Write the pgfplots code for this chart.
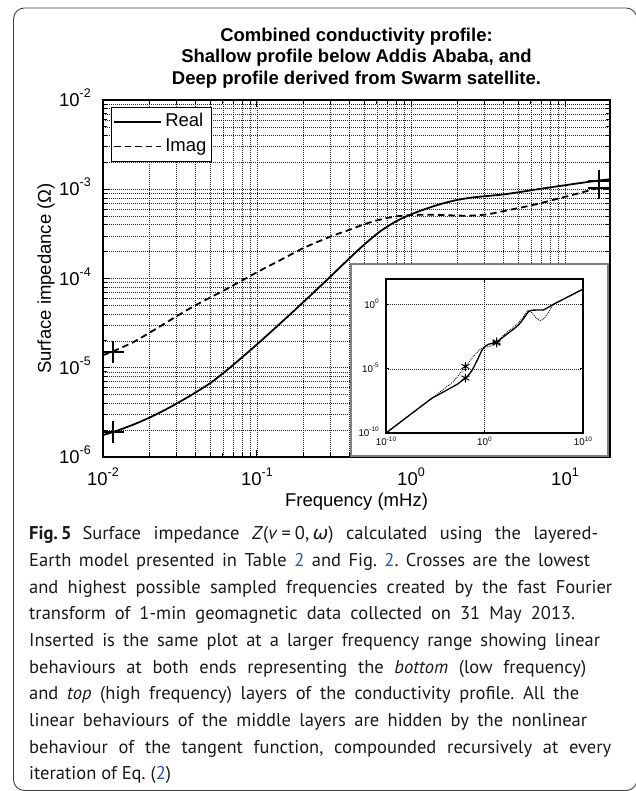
\documentclass[border=0pt]{standalone}
\usepackage{fontspec}
\setmainfont{Liberation Sans}
\newfontfamily\capfont{PT Sans}
\newfontfamily\greekfont{DejaVu Sans}
\usepackage{pgfplots}
\pgfplotsset{compat=1.18}
\definecolor{linkblue}{RGB}{40,80,210}
\frenchspacing
\newcommand{\tp}[1]{10\raisebox{9pt}{\fontsize{12.5}{12.5}\selectfont #1}}
\newcommand{\tps}[1]{10\raisebox{4.5pt}{\fontsize{6.5}{6.5}\selectfont #1}}
\newcommand{\capline}[3]{\node[anchor=base west, inner sep=0pt, font={\fontsize{18.5}{20}\selectfont\capfont}, text=black!90] at (29,#1) {\hbox to #2pt{\frenchspacing\spaceskip=0.25em plus 1fil minus 1fil\xspaceskip=\spaceskip\relax #3}};}
\begin{document}
\begin{tikzpicture}[x=1pt,y=1pt]
\useasboundingbox (0,0) rectangle (635,791);
\draw[black!75, line width=0.9pt, rounded corners=11pt] (13.5,0.5) rectangle (637,783);
% title
\node[font=\bfseries\fontsize{18.5}{22}\selectfont, anchor=base] at (356.5,749) {Combined conductivity profile:};
\node[font=\bfseries\fontsize{18.5}{22}\selectfont, anchor=base] at (356.5,728) {Shallow profile below Addis Ababa, and};
\node[font=\bfseries\fontsize{18.5}{22}\selectfont, anchor=base] at (356.5,706) {Deep profile derived from Swarm satellite.};
\begin{axis}[
  at={(103pt,334pt)}, anchor=south west,
  width=507pt, height=357pt, scale only axis,
  xmode=log, ymode=log,
  xmin=0.01, xmax=19.6, ymin=1e-6, ymax=1e-2,
  xtick={0.01,0.1,1,10},
  xticklabels={\tp{-2},\tp{-1},\tp{0},\tp{1}},
  ytick={1e-6,1e-5,1e-4,1e-3,1e-2},
  yticklabels={\tp{-6},\tp{-5},\tp{-4},\tp{-3},\tp{-2}},
  minor xtick={0.02,0.03,0.04,0.05,0.06,0.07,0.08,0.09,0.2,0.3,0.4,0.5,0.6,0.7,0.8,0.9,2,3,4,5,6,7,8,9},
  minor ytick={2e-6,3e-6,4e-6,5e-6,6e-6,7e-6,8e-6,9e-6,2e-5,3e-5,4e-5,5e-5,6e-5,7e-5,8e-5,9e-5,2e-4,3e-4,4e-4,5e-4,6e-4,7e-4,8e-4,9e-4,2e-3,3e-3,4e-3,5e-3,6e-3,7e-3,8e-3,9e-3},
  grid=both,
  major grid style={black!85, line width=0.55pt, dash pattern=on 0.8pt off 1.2pt},
  minor grid style={black!85, line width=0.55pt, dash pattern=on 0.8pt off 1.2pt},
  axis line style={line width=1.4pt},
  tick align=inside,
  major tick style={black, line width=1pt},
  minor tick style={black, line width=0.8pt},
  major tick length=7pt, minor tick length=4pt,
  tick label style={font=\fontsize{18.5}{20}\selectfont},
  xticklabel style={inner sep=0pt, anchor=base, yshift=-28pt},
  yticklabel style={inner sep=0pt, anchor=base east, xshift=-12pt, yshift=-6.5pt},
  xlabel={Frequency (mHz)},
  ylabel={Surface impedance (Ω)},
  label style={font=\fontsize{18.5}{20}\selectfont, inner sep=0pt},
  xlabel style={at={(axis description cs:0.5,-0.1373)}, anchor=base},
  ylabel style={at={(axis description cs:-0.1026,0.5)}, anchor=base},
  legend style={at={(axis description cs:0.0158,0.980)}, anchor=north west,
    draw=black, line width=1pt, fill=white, inner xsep=2pt, inner ysep=3pt,
    row sep=1pt, font=\fontsize{18.5}{20}\selectfont,
    nodes={inner sep=3pt, text height=13.3pt, text depth=4pt}},
  legend cell align=left,
  legend image code/.code={\draw[#1] (0pt,0pt) -- (47pt,0pt);},
]
\addplot[black, line width=1.8pt, smooth] coordinates {
(0.01,1.758e-6) (0.01259,1.995e-6) (0.01585,2.317e-6) (0.01995,2.754e-6) (0.02512,3.350e-6)
(0.03162,4.169e-6) (0.03981,5.272e-6) (0.05012,6.792e-6) (0.0631,9.268e-6) (0.07943,1.294e-5)
(0.1,1.828e-5) (0.1259,2.612e-5) (0.1585,3.750e-5) (0.1995,5.420e-5) (0.2512,7.870e-5)
(0.3162,1.148e-4) (0.3981,1.683e-4) (0.5012,2.432e-4) (0.631,3.373e-4) (0.7943,4.345e-4)
(1,5.224e-4) (1.259,6.067e-4) (1.585,6.887e-4) (1.995,7.586e-4) (2.512,8.091e-4)
(3.162,8.414e-4) (3.981,8.750e-4) (5.012,9.268e-4) (6.31,9.863e-4) (7.943,1.047e-3)
(10,1.109e-3) (12.59,1.175e-3) (15.85,1.239e-3) (19.59,1.294e-3)};
\addlegendentry{Real}
\addplot[black, line width=1.8pt, dash pattern=on 6.5pt off 4pt, smooth] coordinates {
(0.01,1.380e-5) (0.01259,1.622e-5) (0.01585,1.950e-5) (0.01995,2.455e-5) (0.02512,3.126e-5)
(0.03162,3.981e-5) (0.03981,5.012e-5) (0.05012,6.166e-5) (0.0631,7.586e-5) (0.07943,9.441e-5)
(0.1,1.175e-4) (0.1259,1.445e-4) (0.1585,1.778e-4) (0.1995,2.188e-4) (0.2512,2.600e-4)
(0.3162,3.055e-4) (0.3981,3.508e-4) (0.5012,4.074e-4) (0.631,4.571e-4) (0.7943,4.955e-4)
(1,5.129e-4) (1.259,5.188e-4) (1.585,5.152e-4) (1.995,5.070e-4) (2.512,5.070e-4)
(3.162,5.248e-4) (3.981,5.689e-4) (5.012,6.166e-4) (6.31,6.714e-4) (7.943,7.413e-4)
(10,8.222e-4) (12.59,9.120e-4) (16.52,1.035e-3)};
\addlegendentry{Imag}
\addplot[black, only marks, mark=+, mark size=11pt, mark options={line width=1.8pt}, forget plot]
coordinates {(0.01157,1.905e-6) (0.01157,1.517e-5) (16.67,1.250e-3) (16.67,1.035e-3)};
\end{axis}
% inset frame
\draw[black!50, line width=1.6pt, fill=white] (351,334.8) rectangle (608,527);
\begin{axis}[
  at={(386pt,358pt)}, anchor=south west,
  width=197pt, height=154pt, scale only axis,
  xmode=log, ymode=log,
  xmin=1e-10, xmax=1e10, ymin=1e-10, ymax=100,
  xtick={1e-10,1,1e10}, ytick={1e-10,1e-5,1},
  xticklabels={\tps{-10},\tps{0},\tps{10}},
  yticklabels={\tps{-10},\tps{-5},\tps{0}},
  grid=major,
  major grid style={black!85, line width=0.5pt, dash pattern=on 0.8pt off 1.2pt},
  minor tick length=0pt,
  axis line style={line width=1.2pt},
  tick align=inside, major tick length=3pt,
  major tick style={black, line width=0.7pt},
  tick label style={font=\fontsize{9.8}{10}\selectfont},
  xticklabel style={inner sep=0pt, anchor=base, yshift=-13pt},
  yticklabel style={inner sep=0pt, anchor=base east, xshift=-7pt, yshift=-3.5pt},
]
\addplot[black, line width=1.3pt] coordinates {
(1e-10,1e-10) (3.162e-8,2.851e-9) (4.365e-6,5.012e-8) (3.162e-4,3.020e-7) (1.995e-3,6.761e-7)
(0.01,1.758e-6) (0.01585,2.317e-6) (0.03162,4.169e-6) (0.0631,9.268e-6) (0.1,1.828e-5)
(0.2512,7.870e-5) (0.5012,2.432e-4) (1,5.224e-4) (2.512,8.091e-4) (10,1.109e-3) (19.59,1.294e-3)
(100,3.467e-3) (1000,1.318e-2) (3162,2.818e-2) (1e4,8.913e-2) (2.818e4,0.2818) (6.31e4,0.3715)
(1e6,0.389) (3.162e6,0.631) (1e7,1.072) (3.162e8,4.169) (1e10,16.22)};
\addplot[black, line width=0.9pt, dash pattern=on 0.9pt off 1.1pt] coordinates {
(1e-10,1e-10) (3.162e-8,2.851e-9) (4.365e-6,5.012e-8) (1.413e-5,1e-7) (6.761e-4,1e-6) (3.162e-3,4.169e-6)
(0.01,1.38e-5) (0.03162,3.981e-5) (0.1,1.175e-4) (0.3162,3.055e-4) (1,5.129e-4) (2.512,5.07e-4)
(6.31,6.714e-4) (16.52,1.035e-3) (100,4.677e-3) (1000,1.905e-2) (3162,4.169e-2) (1e4,0.1318)
(2.512e4,0.3548) (6.31e4,0.2399) (1.585e5,0.1) (4.365e5,5.623e-2) (1e6,7.586e-2) (2.512e6,0.1995)
(1e7,1.072) (3.162e8,4.169) (1e10,16.22)};
\addplot[black, only marks, mark=asterisk, mark size=4.5pt, mark options={line width=1pt}]
coordinates {(0.01157,1.905e-6) (0.01157,1.517e-5) (16.67,1.250e-3) (16.67,1.035e-3)};
\end{axis}
% caption
\capline{251}{569}{{\bfseries Fig.\,5}\hspace{11pt}Surface impedance \textit{Z}(\textit{v}\hspace{0.22em}=\hspace{0.22em}0,\hspace{0.2em}{\greekfont\itshape ω}) calculated using the layered-}
\capline{224.3}{561}{Earth model presented in Table \textcolor{linkblue}{2} and Fig. \textcolor{linkblue}{2}. Crosses are the lowest}
\capline{197.7}{583}{and highest possible sampled frequencies created by the fast Fourier}
\capline{171}{546}{transform of 1-min geomagnetic data collected on 31 May 2013.}
\capline{144.3}{571}{Inserted is the same plot at a larger frequency range showing linear}
\capline{117.7}{557}{behaviours at both ends representing the \textit{bottom} (low frequency)}
\capline{91}{550}{and \textit{top} (high frequency) layers of the conductivity profile. All the}
\capline{64.3}{558}{linear behaviours of the middle layers are hidden by the nonlinear}
\capline{37.7}{582}{behaviour of the tangent function, compounded recursively at every}
\node[anchor=base west, inner sep=0pt, font={\fontsize{18.5}{20}\selectfont\capfont}, text=black!90] at (29,11) {iteration of Eq. (\textcolor{linkblue}{2})};
\end{tikzpicture}
\end{document}
